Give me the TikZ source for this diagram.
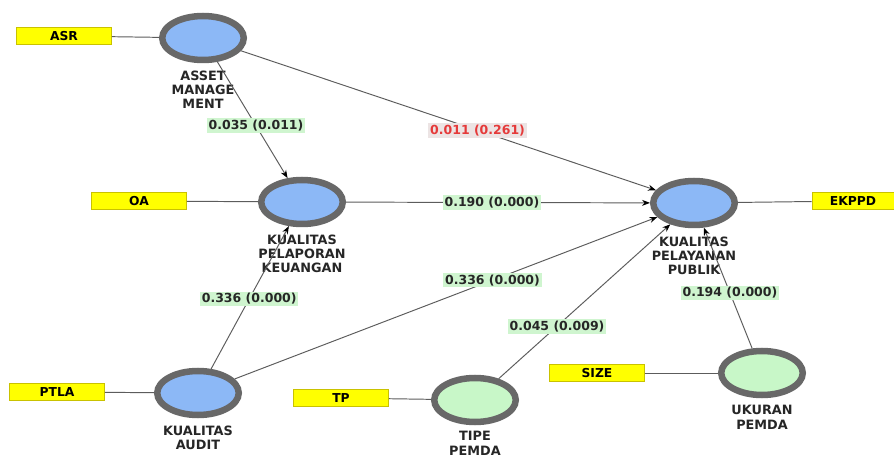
\documentclass[tikz,border=0pt]{standalone}
\usepackage{fontspec}
\setmainfont{DejaVu Sans}
\usetikzlibrary{shapes.geometric,arrows.meta,positioning}

\definecolor{lvblue}{HTML}{8CB8F6}
\definecolor{lvgreen}{HTML}{C8F7C8}
\definecolor{ringgray}{HTML}{686868}
\definecolor{boxyellow}{HTML}{FFFF00}
\definecolor{boxedge}{HTML}{C9C200}
\definecolor{coefgreen}{HTML}{CFF5CF}
\definecolor{coefred}{HTML}{E53A3A}
\definecolor{redbg}{HTML}{ECE4E4}
\definecolor{linegray}{HTML}{5C5C5C}

\begin{document}
\begin{tikzpicture}[x=0.2mm, y=-0.2mm,
  latent/.style = {draw=ringgray, ellipse, line width=1.3mm, fill=lvblue,
    minimum width=16.3mm, minimum height=8.8mm},
  moder/.style = {latent, fill=lvgreen},
  ind/.style = {draw=boxedge, line width=0.4pt, fill=boxyellow, inner sep=0pt,
    minimum width=19mm, minimum height=3.4mm, font=\fontsize{7}{8}\selectfont\bfseries},
  lvname/.style = {align=center, inner sep=0pt, text=black!85,
    font=\fontsize{7.3}{8.2}\selectfont\bfseries},
  coef/.style = {fill=coefgreen, inner sep=1pt, text=black!85,
    font=\fontsize{7.1}{8}\selectfont\bfseries},
  coefns/.style = {coef, fill=redbg, text=coefred},
  link/.style = {draw=linegray, line width=0.55pt},
  effect/.style = {link, -{Stealth[length=1.6mm,width=1.2mm,color=black]}}]
\useasboundingbox (0,0) rectangle (894,457);

% latent variables
\node[latent] (am) at (203,38) {};
\node[latent] (kp) at (302,202) {};
\node[latent] (kpp) at (694,203) {};
\node[latent] (ka) at (198,393) {};
\node[moder] (tp) at (475,400) {};
\node[moder] (up) at (762,373) {};

\node[lvname] (am-lbl) [below=1.4mm of am] {ASSET\\MANAGE\\MENT};
\node[lvname] (kp-lbl) [below=1.4mm of kp] {KUALITAS\\PELAPORAN\\KEUANGAN};
\node[lvname] (kpp-lbl) [below=1.6mm of kpp] {KUALITAS\\PELAYANAN\\PUBLIK};
\node[lvname] (ka-lbl) [below=1.4mm of ka] {KUALITAS\\AUDIT};
\node[lvname] (tp-lbl) [below=1.2mm of tp] {TIPE\\PEMDA};
\node[lvname] (up-lbl) [below=1.4mm of up] {UKURAN\\PEMDA};

% indicators
\node[ind] (asr) at (64,36) {ASR};
\node[ind] (oa) at (139,201) {OA};
\node[ind, minimum width=16.4mm] (ekppd) at (853,201) {EKPPD};
\node[ind] (ptla) at (57,392) {PTLA};
\node[ind] (tpi) at (341,398) {TP};
\node[ind] (size) at (597,373) {SIZE};

\draw[link] (asr) -- (am);
\draw[link] (oa) -- (kp);
\draw[link] (kpp) -- (ekppd);
\draw[link] (ptla) -- (ka);
\draw[link] (tpi) -- (tp);
\draw[link] (size) -- (up);

% structural paths
\draw[effect] (am) -- (kp) node[coef, pos=0.55] {0.035 (0.011)};
\draw[effect] (am) -- (kpp) node[coefns, pos=0.57] {0.011 (0.261)};
\draw[effect] (kp) -- (kpp) node[coef, pos=0.48] {0.190 (0.000)};
\draw[effect] (ka) -- (kp) node[coef, pos=0.49] {0.336 (0.000)};
\draw[effect] (ka) -- (kpp) node[coef, pos=0.61] {0.336 (0.000)};
\draw[effect] (tp) -- (kpp) node[coef, pos=0.34] {0.045 (0.009)};
\draw[effect] (up) -- (kpp) node[coef, pos=0.46] {0.194 (0.000)};
\end{tikzpicture}
\end{document}
